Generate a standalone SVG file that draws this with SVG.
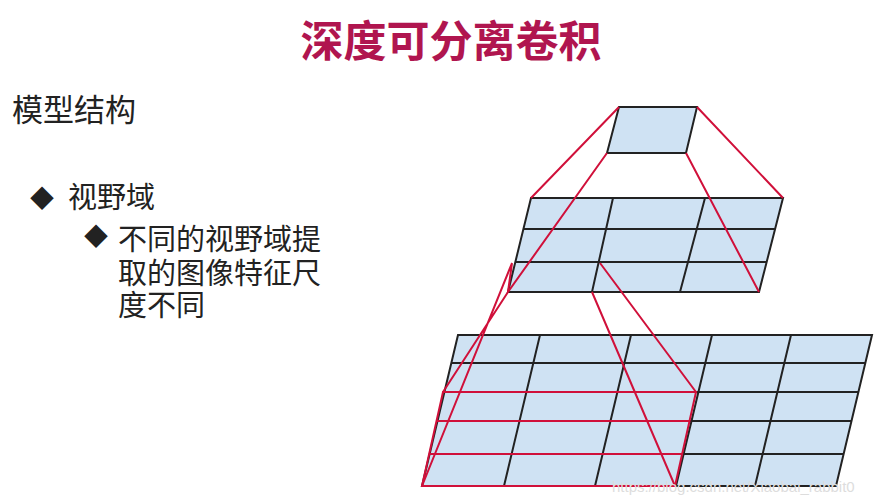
<svg xmlns="http://www.w3.org/2000/svg" width="882" height="499" viewBox="0 0 882 499">
<style>
.g{fill:#cfe2f3;stroke:#222;stroke-width:2}
.l{stroke:#222;stroke-width:2;fill:none}
.r{stroke:#d0103a;stroke-width:2;fill:none}
.t{font-family:"Liberation Sans","Noto Sans CJK SC",sans-serif;fill:#222}
</style>
<rect width="882" height="499" fill="#fff"/>
<text x="451" y="57" text-anchor="middle" class="t" style="font-size:43px;fill:#b0154f;font-weight:bold">深度可分离卷积</text>
<text x="12" y="121" class="t" style="font-size:31px">模型结构</text>
<text x="30" y="207" class="t" style="font-size:24px">◆</text>
<text x="68" y="208" class="t" style="font-size:29px">视野域</text>
<text x="84" y="245" class="t" style="font-size:24px">◆</text>
<text x="118" y="250" class="t" style="font-size:29px">不同的视野域提</text>
<text x="118" y="284" class="t" style="font-size:29px">取的图像特征尺</text>
<text x="118" y="316" class="t" style="font-size:29px">度不同</text>
<g id="bottom-grid">
<polygon class="g" points="458,335 872,335 836,486 422,486"/>
<path class="l" d="M451,363H865M444,392H858M437,421H851M429,454H844M540,335L504,486M631,335L595,486M712,335L676,486M791,335L755,486"/>
</g>
<g id="middle-grid">
<polygon class="g" points="531,198 783,198 759,292 508,292"/>
<path class="l" d="M523,229H775M515,262H767M613,198L592,292M705,198L680,292"/>
</g>
<g id="top-patch">
<polygon class="g" points="619,107 697,107 686,153 607,153"/>
</g>
<g id="connectors">
<path class="r" d="M619,107L531,198M697,107L783,198M607,153L508,292M686,153L759,292"/>
<path class="r" d="M512,263L508,292M512,263L422,486M508,292L443,392M600,263L696,392M592,292L675,486"/>
<path class="r" d="M443,392H696L675,486H422ZM436,421H689M429,454H683"/>
</g>
<text x="612" y="492" class="t" style="font-size:15px;fill:#ddd">https://blog.csdn.net/Xiaobai_rabbit0</text>
</svg>
